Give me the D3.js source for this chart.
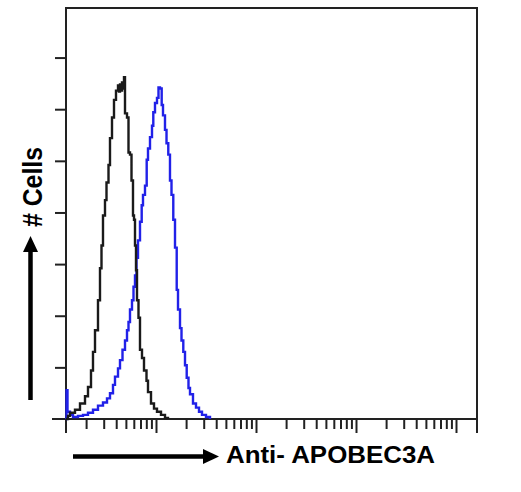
<!DOCTYPE html>
<html>
<head>
<meta charset="utf-8">
<script src="https://cdn.jsdelivr.net/npm/d3@7"></script>
<style>
  html, body { margin: 0; padding: 0; background: #fff; }
  svg { display: block; }
</style>
</head>
<body>
<svg id="chart" width="521" height="492"></svg>
<script>
// ---- data (fluorescence intensity, cell count) ----
const isotypeX = [1.259,1.318,1.380,1.549,1.738,1.950,2.089,2.239,2.344,2.455,2.630,2.754,2.851,2.951,3.090,3.199,3.350,3.467,3.631,3.802,3.981,4.169,4.266,4.365,4.467,4.571,4.677,4.786,4.898,5.129,5.309,5.495,5.689,5.888,6.026,6.166,6.310,6.457,6.683,6.918,7.244,7.586,8.035,8.318,8.913,9.550,10.23,11.22,12.30,13.18];
const isotypeY = [0,3,6,9,15,22,31,47,65,86,115,146,168,197,212,229,246,272,292,309,318,323,317,324,318,326,320,331,296,292,258,256,231,197,193,168,144,115,98,67,59,47,37,26,15,10,7,4,1,0];

const antibodyX = [1.259,1.274,1.303,1.380,1.479,1.660,1.862,2.089,2.344,2.630,2.951,3.236,3.467,3.715,3.890,4.169,4.365,4.624,4.898,5.129,5.309,5.495,5.754,5.957,6.166,6.383,6.607,6.918,7.194,7.413,7.762,8.072,8.318,8.710,9.120,9.397,9.772,10.23,10.59,10.96,11.40,11.75,12.30,12.74,13.27,13.80,14.29,14.89,15.49,16.11,16.60,17.38,17.99,18.75,19.50,20.28,21.13,21.88,23.44,25.12,26.92,28.84,31.62,34.67];
const antibodyY = [0,28,7,4,2,3,4,6,9,13,16,20,25,33,41,49,57,67,76,86,94,106,115,128,139,156,173,191,207,217,226,251,262,273,284,297,306,311,321,320,304,294,280,267,256,231,217,193,166,125,106,88,76,65,52,40,30,24,15,11,7,4,2,0];

const xDomain = [1.259, 16218];
const yDomain = [0, 398];
const yTicks = [50, 100, 150, 200, 250, 300, 350];
const xLabel = "Anti- APOBEC3A";
const yLabel = "# Cells";

// ---- layout ----
const svg = d3.select("#chart");
const L = 66, R = 477, T = 8, B = 419;
const x = d3.scaleLog().domain(xDomain).range([L, R]);
const y = d3.scaleLinear().domain(yDomain).range([B, T]);
const axisColor = "#222";

// frame
svg.append("rect").attr("x", L).attr("y", T).attr("width", R - L).attr("height", B - T)
  .attr("fill", "none").attr("stroke", axisColor).attr("stroke-width", 2);
// axis extensions
svg.append("line").attr("x1", L).attr("x2", L).attr("y1", B).attr("y2", B + 14).attr("stroke", axisColor).attr("stroke-width", 2);
svg.append("line").attr("x1", R).attr("x2", R).attr("y1", B).attr("y2", B + 14).attr("stroke", axisColor).attr("stroke-width", 2);
svg.append("line").attr("x1", L - 14).attr("x2", L).attr("y1", B).attr("y2", B).attr("stroke", axisColor).attr("stroke-width", 2);

// y axis ticks
const gy = svg.append("g").attr("transform", `translate(${L},0)`)
  .call(d3.axisLeft(y).tickValues(yTicks).tickSize(11).tickFormat(""));
gy.select(".domain").remove();
gy.selectAll("line").attr("stroke", axisColor).attr("stroke-width", 2);

// x axis ticks (log decades)
const xt = x.ticks().filter(v => x(v) > L + 1 && x(v) < R - 1);
const gx = svg.append("g").attr("transform", `translate(0,${B})`)
  .call(d3.axisBottom(x).tickValues(xt).tickSize(10).tickFormat(""));
gx.select(".domain").remove();
gx.selectAll(".tick line")
  .attr("stroke", axisColor).attr("stroke-width", 2)
  .attr("y2", d => (Math.abs(Math.log10(d) - Math.round(Math.log10(d))) < 1e-9 ? 14 : 10));

// curves
const line = d3.line().x(d => x(d[0])).y(d => y(d[1])).curve(d3.curveStepAfter);
const iso = isotypeX.map((v, i) => [v, isotypeY[i]]);
const ab = antibodyX.map((v, i) => [v, antibodyY[i]]);
svg.append("path").datum(ab).attr("d", line).attr("fill", "none")
  .attr("stroke", "#2121e8").attr("stroke-width", 2.4);
svg.append("path").datum(iso).attr("d", line).attr("fill", "none")
  .attr("stroke", "#1a1a1a").attr("stroke-width", 2.4);

// arrows
function arrow(x1, y1, x2, y2) {
  const ang = Math.atan2(y2 - y1, x2 - x1);
  const hl = 16, hw = 7.5;
  const bx = x2 - hl * Math.cos(ang), by = y2 - hl * Math.sin(ang);
  svg.append("line").attr("x1", x1).attr("y1", y1).attr("x2", bx).attr("y2", by)
    .attr("stroke", "#000").attr("stroke-width", 4.5);
  const px = -Math.sin(ang) * hw, py = Math.cos(ang) * hw;
  svg.append("path").attr("d", `M${x2},${y2}L${bx + px},${by + py}L${bx - px},${by - py}Z`).attr("fill", "#000");
}
arrow(73, 456.5, 219, 456.5);
arrow(30.5, 400, 30.5, 236);

// labels
svg.append("text").attr("x", 226).attr("y", 463)
  .attr("font-family", "Liberation Sans, Arial, sans-serif").attr("font-weight", "bold")
  .attr("font-size", 24).attr("textLength", 209).attr("lengthAdjust", "spacingAndGlyphs")
  .attr("fill", "#000").text(xLabel);
svg.append("text").attr("transform", "translate(42,227) rotate(-90)")
  .attr("font-family", "Liberation Sans, Arial, sans-serif").attr("font-weight", "bold")
  .attr("font-size", 28).attr("textLength", 80).attr("lengthAdjust", "spacingAndGlyphs")
  .attr("fill", "#000").text(yLabel);
</script>
</body>
</html>
